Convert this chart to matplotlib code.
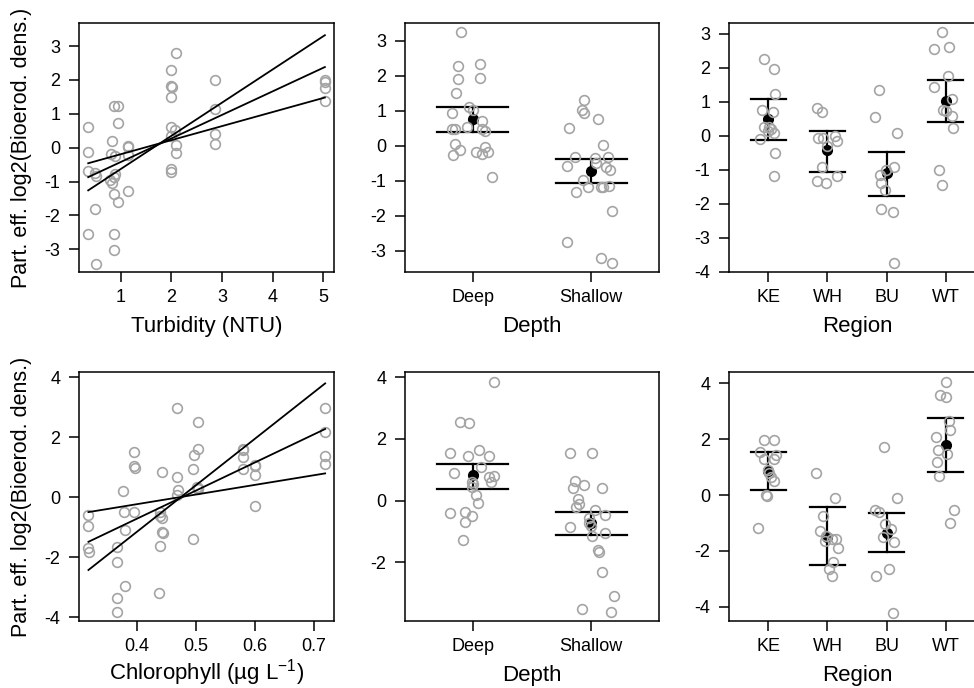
import matplotlib
matplotlib.use("Agg")
import matplotlib.pyplot as plt

# ---- data ----
# Turbidity panel (top left)
turb_x = [0.36, 0.36, 0.36, 0.36, 0.51, 0.49, 0.50, 0.51, 0.82, 0.86, 0.95, 0.95,
          0.81, 0.89, 0.79, 0.82, 0.86, 0.89, 0.86, 0.95, 0.86, 0.86, 1.14, 1.15,
          1.14, 1.14, 2.10, 2.00, 2.00, 2.01, 2.00, 2.00, 2.07, 2.00, 2.10, 2.10,
          2.00, 2.00, 2.86, 2.86, 2.86, 2.86, 5.03, 5.03, 5.03, 5.03]
turb_y = [0.61, -0.13, -0.69, -2.54, -3.42, -1.82, -0.75, -0.85, 0.20, 1.24, 1.22, 0.74,
          -0.18, -0.25, -0.96, -1.04, -0.87, -0.77, -1.36, -1.59, -2.56, -3.03, 0.05, 0.02,
          -0.23, -1.28, 2.79, 2.28, 1.82, 1.80, 1.51, 0.61, 0.51, 0.33, 0.07, -0.16,
          -0.62, -0.72, 1.99, 1.15, 0.41, 0.12, 2.00, 1.94, 1.77, 1.37]
turb_line_x = [0.36, 5.03]
turb_lines = [[-1.26, 3.32], [-0.87, 2.38], [-0.46, 1.48]]

# Chlorophyll panel (bottom left)
chl_x = [0.318, 0.318, 0.318, 0.319, 0.377, 0.379, 0.396, 0.396, 0.396, 0.397, 0.380, 0.366,
         0.366, 0.380, 0.366, 0.366, 0.443, 0.440, 0.440, 0.443, 0.443, 0.445, 0.440, 0.438,
         0.468, 0.468, 0.470, 0.468, 0.495, 0.495, 0.496, 0.503, 0.503, 0.502, 0.503, 0.504,
         0.579, 0.579, 0.579, 0.579, 0.600, 0.601, 0.600, 0.600, 0.719, 0.719, 0.719, 0.719]
chl_y = [-0.59, -0.96, -1.70, -1.81, 0.22, -0.50, -0.48, 1.52, 1.04, 0.99, -1.09, -1.64,
         -2.14, -2.96, -3.34, -3.83, 0.86, -0.48, -0.61, -0.70, -1.14, -1.17, -1.62, -3.20,
         2.99, 0.69, 0.24, 0.08, -1.37, 0.94, 1.41, 2.52, 1.63, 0.36, 0.30, 0.27,
         1.63, 1.58, 1.36, 0.94, 1.08, 1.04, 0.74, -0.28, 2.99, 2.17, 1.38, 1.11]
chl_line_x = [0.318, 0.719]
chl_lines = [[-2.42, 3.80], [-1.48, 2.28], [-0.49, 0.80]]

# Depth panels (jittered positions 1 = Deep, 2 = Shallow)
depth_labels = ["Deep", "Shallow"]
depth1_x = [0.90, 0.87, 0.87, 0.86, 1.06, 1.06, 0.97, 1.00, 0.82, 1.08, 0.82, 0.85,
            0.95, 1.08, 1.10, 0.85, 0.89, 0.83, 1.03, 1.10, 1.13, 1.08, 1.16,
            1.94, 1.92, 1.94, 1.81, 2.06, 2.10, 1.86, 1.80, 2.03, 2.04, 2.14, 2.13,
            2.16, 1.93, 1.97, 1.87, 2.08, 2.10, 2.15, 2.18, 1.80, 2.08, 2.18]
depth1_y = [3.24, 2.29, 1.90, 1.52, 2.33, 1.95, 1.11, 1.02, 0.94, 0.70, 0.47, 0.47,
            0.54, 0.47, 0.43, 0.05, -0.12, -0.27, -0.17, -0.03, -0.19, -0.24, -0.90,
            1.30, 1.02, 0.94, 0.52, 0.76, 0.02, -0.31, -0.57, -0.36, -0.50, -0.31, -0.60,
            -0.68, -0.98, -1.19, -1.31, -1.17, -1.19, -1.14, -1.86, -2.74, -3.20, -3.36]
depth1_mean = [0.76, -0.72]
depth1_lo = [0.40, -1.06]
depth1_hi = [1.11, -0.39]

depth2_x = [1.18, 0.89, 0.97, 0.81, 0.96, 1.05, 1.14, 1.07, 0.84, 1.14, 1.18, 1.15,
            0.99, 1.00, 0.99, 1.03, 1.04, 0.81, 0.93, 0.99, 0.93, 0.92,
            1.82, 2.01, 1.86, 1.85, 1.94, 2.09, 1.89, 1.90, 1.87, 2.03, 2.12, 1.98,
            1.98, 2.00, 1.82, 2.01, 2.12, 2.06, 2.07, 2.09, 2.19, 1.92, 2.17]
depth2_y = [3.86, 2.56, 2.53, 1.54, 1.46, 1.64, 1.46, 1.08, 0.89, 0.78, 0.80, 0.62,
            0.62, 0.54, 0.45, 0.18, -0.06, -0.39, -0.36, -0.50, -0.68, -1.28,
            1.54, 1.54, 0.65, 0.42, 0.51, 0.42, 0.04, -0.12, -0.19, -0.30, -0.46, -0.57,
            -0.74, -0.82, -0.86, -1.15, -1.06, -1.60, -1.65, -2.30, -3.08, -3.52, -3.62]
depth2_mean = [0.83, -0.74]
depth2_lo = [0.38, -1.11]
depth2_hi = [1.19, -0.36]

# Region panels (1 = KE, 2 = WH, 3 = BU, 4 = WT)
region_labels = ["KE", "WH", "BU", "WT"]
region1_x = [0.93, 1.10, 1.12, 0.90, 1.08, 0.92, 1.02, 1.04, 1.00, 1.10, 0.86, 1.11, 1.10,
             1.82, 1.90, 1.84, 1.93, 2.13, 2.16, 2.00, 1.90, 1.83, 1.98, 2.16,
             2.87, 2.81, 3.17, 3.13, 2.99, 2.89, 2.91, 2.97, 2.91, 3.11, 3.13,
             3.94, 3.81, 4.06, 4.04, 3.80, 4.10, 3.96, 4.00, 4.11, 4.13, 3.88, 3.94]
region1_y = [2.25, 1.97, 1.24, 0.76, 0.69, 0.25, 0.27, 0.20, 0.13, 0.08, -0.10, -0.51, -1.18,
             0.81, 0.69, -0.07, -0.07, -0.02, -0.14, -0.31, -0.93, -1.34, -1.39, -1.17,
             1.35, 0.55, 0.08, -0.93, -1.02, -1.15, -1.39, -1.59, -2.16, -2.23, -3.75,
             3.05, 2.55, 2.60, 1.77, 1.43, 1.08, 0.76, 0.72, 0.59, 0.23, -1.00, -1.46]
region1_mean = [0.50, -0.43, -1.10, 1.03]
region1_lo = [-0.12, -1.07, -1.76, 0.42]
region1_hi = [1.09, 0.15, -0.48, 1.63]

region2_x = [0.93, 1.10, 0.86, 1.13, 0.93, 1.10, 1.00, 1.02, 1.04, 1.10, 0.96, 0.97, 0.83,
             1.81, 2.13, 1.93, 1.87, 1.98, 2.07, 2.14, 1.96, 2.18, 2.10, 2.02, 2.08,
             2.95, 3.18, 2.81, 2.87, 2.97, 3.07, 2.94, 3.13, 3.04, 2.82, 3.11,
             4.00, 3.91, 4.01, 4.05, 4.08, 3.83, 3.87, 4.03, 3.86, 3.89, 4.14, 4.08]
region2_y = [1.99, 1.99, 1.54, 1.44, 1.28, 1.28, 0.91, 0.79, 0.64, 0.49, 0.02, -0.04, -1.17,
             0.79, -0.10, -0.76, -1.29, -1.47, -1.59, -1.59, -1.66, -1.89, -2.38, -2.66, -2.91,
             1.72, -0.10, -0.55, -0.61, -1.03, -1.21, -1.50, -1.68, -2.64, -2.90, -4.21,
             4.05, 3.57, 3.53, 2.67, 2.32, 2.08, 1.60, 1.48, 1.18, 0.67, -0.53, -0.99]
region2_mean = [0.88, -1.50, -1.36, 1.80]
region2_lo = [0.20, -2.52, -2.04, 0.82]
region2_hi = [1.54, -0.43, -0.63, 2.77]

ylabel = "Part. eff. log2(Bioerod. dens.)"

# ---- style ----
plt.rcParams["font.family"] = ["Liberation Sans", "DejaVu Sans"]
plt.rcParams["mathtext.fontset"] = "custom"
plt.rcParams["mathtext.rm"] = "Liberation Sans"
plt.rcParams["mathtext.it"] = "Liberation Sans:italic"
plt.rcParams["axes.unicode_minus"] = False

GREY = "#a4a4a4"
W, H = 974, 688
fig = plt.figure(figsize=(W / 100, H / 100), dpi=100)

lefts = [79, 405, 729]
widths = [255, 254, 256]
bottoms = [272, 621]
ax_h = 249


def make_ax(row, col):
    ax = fig.add_axes([lefts[col] / W, (H - bottoms[row]) / H, widths[col] / W, ax_h / H])
    for s in ax.spines.values():
        s.set_linewidth(1.1)
    ax.tick_params(direction="out", length=7.5, width=1.1, labelsize=13,
                   top=False, right=False)
    ax.tick_params(axis="y", pad=6)
    ax.tick_params(axis="x", pad=5)
    return ax


def set_xlab(ax, text, yoff=0.0):
    # x label centred about 54 px under the frame, as in the reference
    ax.set_xlabel(text, fontsize=16)
    ax.xaxis.label.set_va("center")
    ax.xaxis.set_label_coords(0.5, -0.217 + yoff)


def grey_points(ax, x, y):
    ax.plot(x, y, "o", ls="none", mfc="none", mec=GREY, ms=7, mew=1.2, zorder=4)


def mean_bars(ax, mean, lo, hi):
    for i in range(len(mean)):
        pos = i + 1
        ax.plot([pos, pos], [lo[i], hi[i]], color="black", lw=1.6, zorder=2)
        ax.plot([pos - 0.3, pos + 0.3], [lo[i], lo[i]], color="black", lw=1.6, zorder=2)
        ax.plot([pos - 0.3, pos + 0.3], [hi[i], hi[i]], color="black", lw=1.6, zorder=2)
    ax.plot(range(1, len(mean) + 1), mean, "o", ls="none", color="black", ms=7, zorder=3)


# Top left: turbidity
ax = make_ax(0, 0)
grey_points(ax, turb_x, turb_y)
for ln in turb_lines:
    ax.plot(turb_line_x, ln, color="black", lw=1.3, zorder=5)
ax.set_xlim(0.178, 5.21)
ax.set_ylim(-3.67, 3.68)
ax.set_xticks([1, 2, 3, 4, 5])
ax.set_yticks([-3, -2, -1, 0, 1, 2, 3])
set_xlab(ax, "Turbidity (NTU)")

# Top middle: depth
ax = make_ax(0, 1)
mean_bars(ax, depth1_mean, depth1_lo, depth1_hi)
grey_points(ax, depth1_x, depth1_y)
ax.set_xlim(0.425, 2.575)
ax.set_ylim(-3.61, 3.51)
ax.set_xticks([1, 2])
ax.set_xticklabels(depth_labels)
ax.set_yticks([-3, -2, -1, 0, 1, 2, 3])
set_xlab(ax, "Depth")

# Top right: region
ax = make_ax(0, 2)
mean_bars(ax, region1_mean, region1_lo, region1_hi)
grey_points(ax, region1_x, region1_y)
ax.set_xlim(0.336, 4.664)
ax.set_ylim(-4.01, 3.32)
ax.set_xticks([1, 2, 3, 4])
ax.set_xticklabels(region_labels)
ax.set_yticks([-4, -3, -2, -1, 0, 1, 2, 3])
set_xlab(ax, "Region")

# Bottom left: chlorophyll
ax = make_ax(1, 0)
grey_points(ax, chl_x, chl_y)
for ln in chl_lines:
    ax.plot(chl_line_x, ln, color="black", lw=1.3, zorder=5)
ax.set_xlim(0.302, 0.734)
ax.set_ylim(-4.12, 4.18)
ax.set_xticks([0.4, 0.5, 0.6, 0.7])
ax.set_xticklabels(["0.4", "0.5", "0.6", "0.7"])
ax.set_yticks([-4, -2, 0, 2, 4])
set_xlab(ax, r"Chlorophyll (µg L$^{-1}$)", yoff=0.008)

# Bottom middle: depth
ax = make_ax(1, 1)
mean_bars(ax, depth2_mean, depth2_lo, depth2_hi)
grey_points(ax, depth2_x, depth2_y)
ax.set_xlim(0.425, 2.575)
ax.set_ylim(-3.90, 4.17)
ax.set_xticks([1, 2])
ax.set_xticklabels(depth_labels)
ax.set_yticks([-2, 0, 2, 4])
set_xlab(ax, "Depth")

# Bottom right: region
ax = make_ax(1, 2)
mean_bars(ax, region2_mean, region2_lo, region2_hi)
grey_points(ax, region2_x, region2_y)
ax.set_xlim(0.336, 4.664)
ax.set_ylim(-4.51, 4.41)
ax.set_xticks([1, 2, 3, 4])
ax.set_xticklabels(region_labels)
ax.set_yticks([-4, -2, 0, 2, 4])
set_xlab(ax, "Region")

# shared y labels for the left column
for row in range(2):
    yc = (bottoms[row] - ax_h / 2)
    fig.text(22 / W, 1 - yc / H, ylabel, rotation=90, ha="center", va="center",
             fontsize=15.5)

fig.savefig("out.png", dpi=100)
